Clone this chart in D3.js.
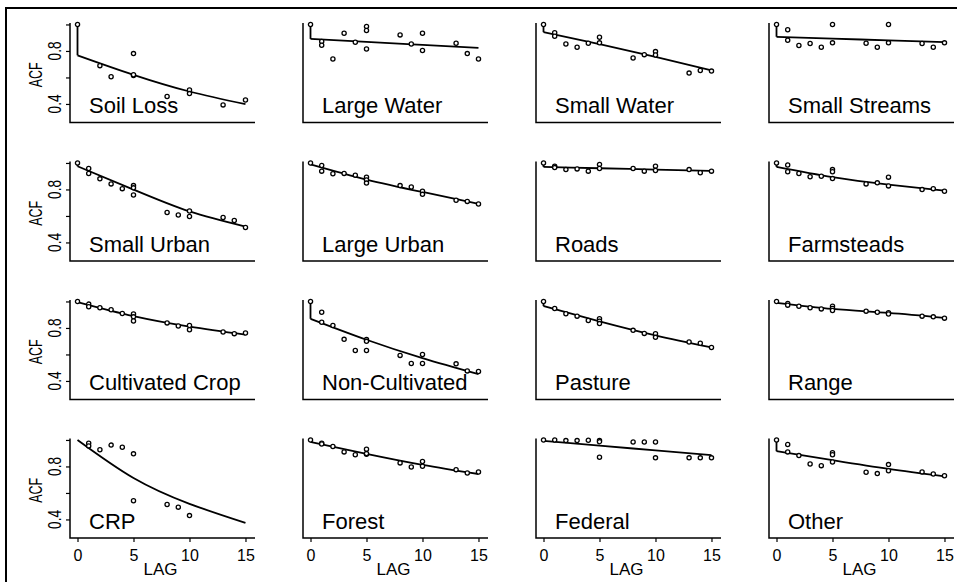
<!DOCTYPE html>
<html>
<head>
<meta charset="utf-8">
<script src="https://cdn.jsdelivr.net/npm/d3@7"></script>
<style>
  body { margin: 0; background: #fff; }
  svg { display: block; font-family: "Liberation Sans", Arial, Helvetica, sans-serif; }
</style>
</head>
<body>
<svg id="chart"></svg>
<script>
// panel names, row by row
const names = ["Soil Loss", "Large Water", "Small Water", "Small Streams",
  "Small Urban", "Large Urban", "Roads", "Farmsteads",
  "Cultivated Crop", "Non-Cultivated", "Pasture", "Range",
  "CRP", "Forest", "Federal", "Other"];

// sample ACF points [lag, acf]
const soilLoss = [[0,1],[2,0.689],[3,0.605],[5,0.78],[5,0.615],[5,0.62],[8,0.456],[10,0.506],[10,0.478],[13,0.393],[15,0.43]];
const largeWater = [[0,1],[1,0.871],[1,0.843],[2,0.739],[3,0.934],[4,0.866],[5,0.985],[5,0.954],[5,0.815],[8,0.921],[9,0.853],[10,0.934],[10,0.803],[13,0.858],[14,0.78],[15,0.739]];
const smallWater = [[0,1],[1,0.937],[1,0.911],[2,0.853],[3,0.828],[4,0.858],[5,0.904],[5,0.861],[8,0.747],[9,0.772],[10,0.795],[10,0.77],[13,0.633],[14,0.653],[15,0.648]];
const smallStreams = [[0,1],[1,0.96],[1,0.881],[2,0.841],[3,0.856],[4,0.828],[5,1.0],[5,0.861],[8,0.858],[9,0.828],[10,1.0],[10,0.861],[13,0.856],[14,0.828],[15,0.861]];
const smallUrban = [[0,1],[1,0.958],[1,0.92],[2,0.88],[3,0.842],[4,0.806],[5,0.829],[5,0.812],[5,0.758],[8,0.626],[9,0.607],[10,0.637],[10,0.596],[13,0.588],[14,0.566],[15,0.513]];
const largeUrban = [[0,1],[1,0.981],[1,0.938],[2,0.918],[3,0.921],[4,0.908],[5,0.893],[5,0.871],[5,0.848],[8,0.829],[9,0.819],[10,0.786],[10,0.763],[13,0.718],[14,0.71],[15,0.69]];
const roads = [[0,1],[1,0.975],[1,0.965],[2,0.95],[3,0.955],[4,0.938],[5,0.989],[5,0.958],[8,0.958],[9,0.938],[10,0.976],[10,0.943],[13,0.95],[14,0.926],[15,0.938]];
const farmsteads = [[0,1],[1,0.985],[1,0.934],[2,0.92],[3,0.896],[4,0.9],[5,0.95],[5,0.934],[5,0.882],[8,0.842],[9,0.85],[10,0.893],[10,0.827],[13,0.799],[14,0.806],[15,0.786]];
const cultivatedCrop = [[0,1],[1,0.98],[1,0.96],[2,0.952],[3,0.937],[4,0.909],[5,0.906],[5,0.884],[5,0.853],[8,0.838],[9,0.815],[10,0.818],[10,0.787],[13,0.77],[14,0.757],[15,0.762]];
const nonCultivated = [[0,1],[1,0.919],[1,0.843],[2,0.818],[3,0.714],[4,0.63],[5,0.712],[5,0.699],[5,0.63],[8,0.593],[9,0.532],[10,0.6],[10,0.532],[13,0.529],[14,0.476],[15,0.471]];
const pasture = [[0,1],[1,0.947],[2,0.907],[3,0.889],[4,0.856],[5,0.869],[5,0.851],[5,0.833],[8,0.782],[9,0.759],[10,0.757],[10,0.729],[13,0.694],[14,0.684],[15,0.653]];
const range = [[0,1],[1,0.985],[1,0.972],[2,0.964],[3,0.952],[4,0.944],[5,0.964],[5,0.947],[5,0.932],[8,0.927],[9,0.919],[10,0.915],[10,0.905],[13,0.889],[14,0.884],[15,0.874]];
const crp = [[1,0.975],[1,0.955],[2,0.926],[3,0.961],[4,0.945],[5,0.895],[5,0.541],[8,0.513],[9,0.493],[10,0.429]];
const forest = [[0,1],[1,0.975],[1,0.97],[2,0.951],[3,0.91],[4,0.888],[5,0.93],[5,0.892],[5,0.897],[8,0.827],[9,0.796],[10,0.837],[10,0.801],[13,0.776],[14,0.751],[15,0.758]];
const federal = [[0,1],[1,1.0],[2,0.995],[3,0.995],[4,0.998],[5,0.995],[5,0.987],[5,0.869],[8,0.985],[9,0.985],[10,0.985],[10,0.865],[13,0.865],[14,0.865],[15,0.865]];
const other = [[0,1],[1,0.966],[1,0.91],[2,0.882],[3,0.819],[4,0.806],[5,0.903],[5,0.888],[5,0.834],[8,0.756],[9,0.746],[10,0.814],[10,0.768],[13,0.759],[14,0.743],[15,0.73]];

const points = [soilLoss, largeWater, smallWater, smallStreams,
  smallUrban, largeUrban, roads, farmsteads,
  cultivatedCrop, nonCultivated, pasture, range,
  crp, forest, federal, other];

// fitted curve: value just after lag 0, and at lags 5, 10, 15
const fitLags = [0, 5, 10, 15];
const fits = [
  [0.767, 0.62, 0.494, 0.398], [0.891, 0.869, 0.846, 0.823], [0.942, 0.852, 0.755, 0.653], [0.907, 0.893, 0.88, 0.866],
  [0.975, 0.799, 0.634, 0.52], [0.99, 0.875, 0.781, 0.692], [0.97, 0.96, 0.95, 0.94], [0.97, 0.893, 0.837, 0.791],
  [0.995, 0.889, 0.81, 0.749], [0.869, 0.711, 0.572, 0.451], [0.965, 0.85, 0.744, 0.653], [0.99, 0.944, 0.914, 0.876],
  [1.0, 0.713, 0.518, 0.374], [0.985, 0.895, 0.812, 0.743], [0.993, 0.957, 0.921, 0.885], [0.915, 0.847, 0.781, 0.725]
];

const xTicks = [0, 5, 10, 15];
const yTicks = [0.4, 0.6, 0.8, 1.0];
const yLabels = [0.4, 0.8];

const W = 957, H = 582;
const left0 = 70, colStep = 233, top0 = 23, rowStep = 138.5;
const pw = 185, ph = 99.5;

const svg = d3.select("#chart").attr("width", W).attr("height", H);

svg.append("rect")
  .attr("x", 6).attr("y", 8)
  .attr("width", W + 10).attr("height", H + 10)
  .attr("fill", "none").attr("stroke", "#000").attr("stroke-width", 2);

const x = d3.scaleLinear().domain([-0.67, 15.85]).range([0, pw]);
const y = d3.scaleLinear().domain([0.26, 1.011]).range([ph, 0]);

const curve = d3.line()
  .x(d => x(d[0]))
  .y(d => y(d[1]))
  .curve(d3.curveNatural);

names.forEach((name, i) => {
  const col = i % 4, row = Math.floor(i / 4);
  const g = svg.append("g")
    .attr("transform", `translate(${left0 + col * colStep},${top0 + row * rowStep})`);

  // L-shaped box
  g.append("path")
    .attr("d", `M0,0V${ph}H${pw}`)
    .attr("fill", "none").attr("stroke", "#000").attr("stroke-width", 1.5);

  if (col === 0) {
    const ya = g.append("g")
      .call(d3.axisLeft(y).tickValues(yTicks).tickSize(4).tickFormat(""));
    ya.select(".domain").remove();
    ya.selectAll("line").attr("stroke-width", 1.2);

    g.selectAll(".ylab")
      .data(yLabels)
      .join("text")
      .attr("transform", d => `translate(-9.5,${y(d)}) rotate(-90)`)
      .attr("text-anchor", "middle")
      .attr("font-size", 18)
      .attr("textLength", 19)
      .attr("lengthAdjust", "spacingAndGlyphs")
      .text(d => d.toFixed(1));

    g.append("text")
      .attr("transform", `translate(-28,${ph / 2 + 2}) rotate(-90)`)
      .attr("text-anchor", "middle")
      .attr("font-size", 18)
      .attr("textLength", 25)
      .attr("lengthAdjust", "spacingAndGlyphs")
      .text("ACF");
  }

  if (row === 3) {
    const xa = g.append("g")
      .attr("transform", `translate(0,${ph})`)
      .call(d3.axisBottom(x).tickValues(xTicks).tickSize(4).tickPadding(8));
    xa.select(".domain").remove();
    xa.selectAll("line").attr("stroke-width", 1.2);
    xa.selectAll("text")
      .attr("font-size", 16)
      .attr("font-family", "Liberation Sans, Arial, sans-serif")
      .attr("fill", "#000");

    g.append("text")
      .attr("x", pw / 2 - 2)
      .attr("y", ph + 37)
      .attr("text-anchor", "middle")
      .attr("font-size", 17)
      .text("LAG");
  }

  // fitted curve with nugget jump at lag 0
  const f = fits[i];
  g.append("line")
    .attr("x1", x(0)).attr("x2", x(0))
    .attr("y1", y(1)).attr("y2", y(f[0]))
    .attr("stroke", "#000").attr("stroke-width", 1.8);
  g.append("path")
    .attr("d", curve(fitLags.map((l, k) => [l, f[k]])))
    .attr("fill", "none").attr("stroke", "#000").attr("stroke-width", 1.8);

  g.selectAll("circle")
    .data(points[i])
    .join("circle")
    .attr("cx", d => x(d[0]))
    .attr("cy", d => y(d[1]))
    .attr("r", 2.1)
    .attr("fill", "#fff")
    .attr("stroke", "#000")
    .attr("stroke-width", 1.3);

  g.append("text")
    .attr("x", 19)
    .attr("y", 90)
    .attr("font-size", 22)
    .text(name);
});
</script>
</body>
</html>
